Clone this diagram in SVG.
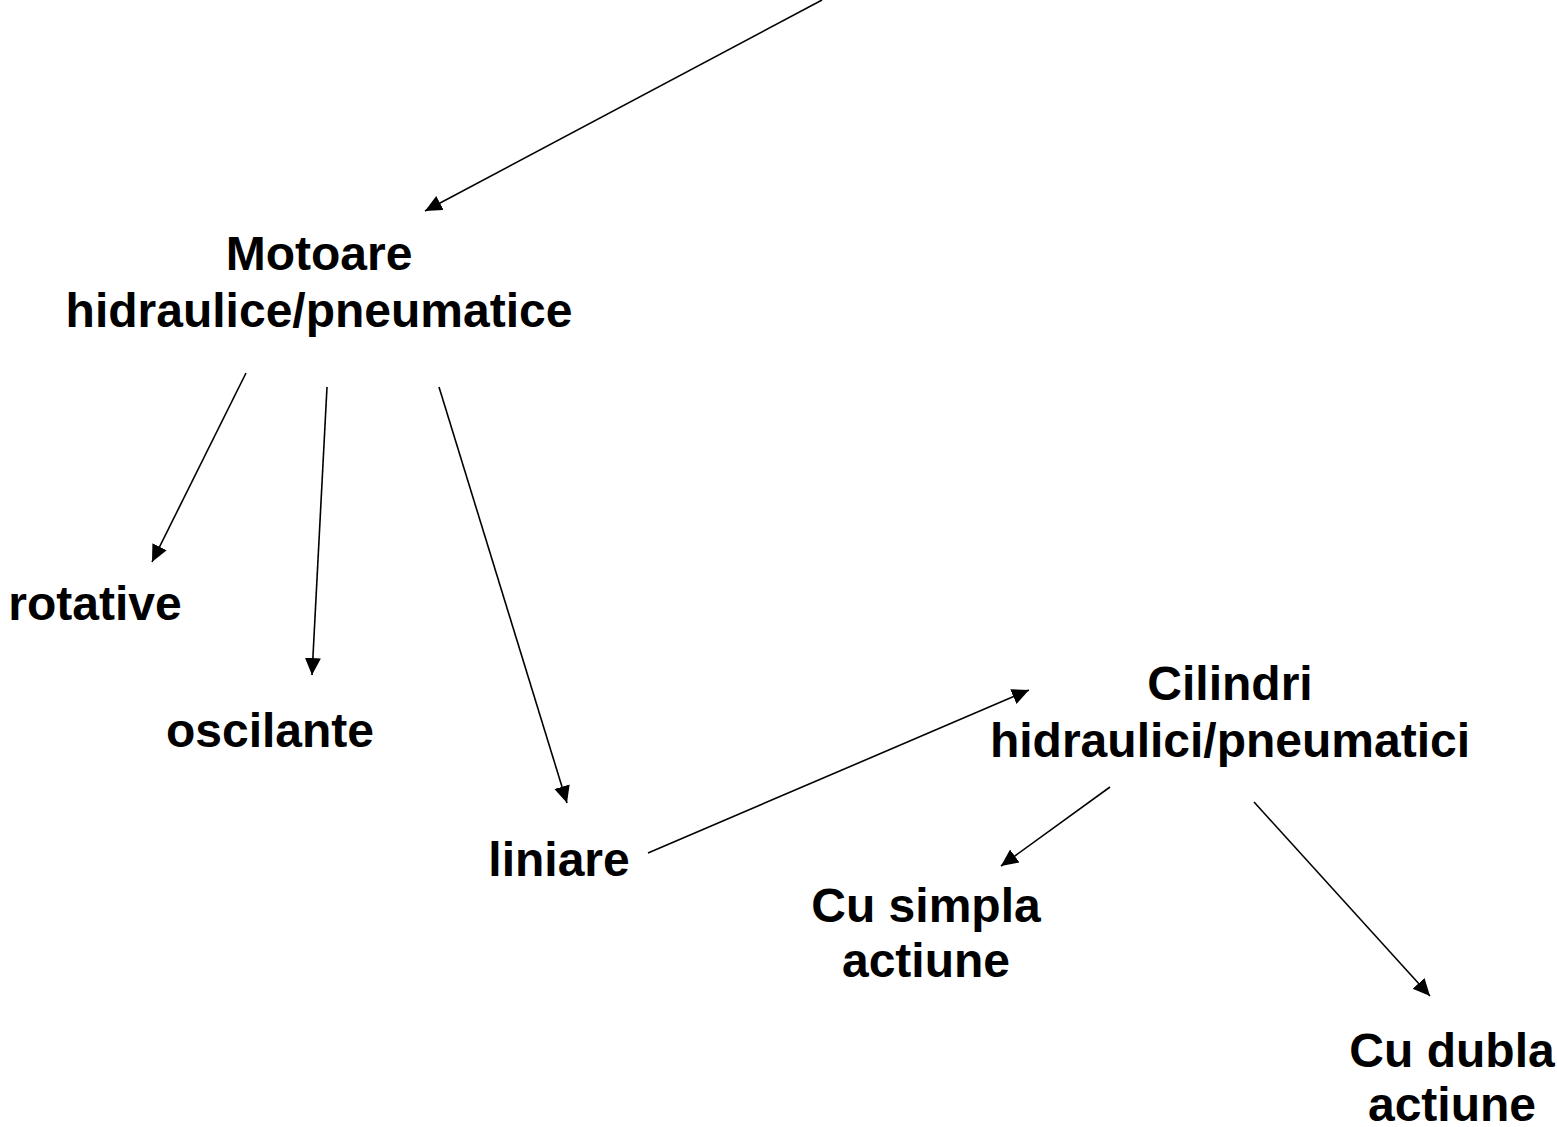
<svg xmlns="http://www.w3.org/2000/svg" width="1557" height="1127" viewBox="0 0 1557 1127">
<style>
text{font-family:"Liberation Sans",Arial,sans-serif;font-weight:bold;font-size:48px;fill:#000;text-anchor:middle}
.c{stroke:#000;stroke-width:1.6;fill:none}
</style>
<defs>
<marker id="ah" markerUnits="userSpaceOnUse" markerWidth="20" markerHeight="18" refX="17" refY="8" orient="auto">
<path d="M0,0 L17,8 L0,16 Z" fill="#000"/>
</marker>
</defs>
<rect width="1557" height="1127" fill="#fff"/>
<g id="connectors">
<line class="c" x1="822" y1="0" x2="425" y2="211" marker-end="url(#ah)"/>
<line class="c" x1="246" y1="373" x2="152" y2="562" marker-end="url(#ah)"/>
<line class="c" x1="327" y1="387" x2="312" y2="675" marker-end="url(#ah)"/>
<line class="c" x1="439" y1="387" x2="567" y2="803" marker-end="url(#ah)"/>
<line class="c" x1="648" y1="853" x2="1029" y2="690" marker-end="url(#ah)"/>
<line class="c" x1="1110" y1="787" x2="1001" y2="866" marker-end="url(#ah)"/>
<line class="c" x1="1254" y1="802" x2="1430" y2="996" marker-end="url(#ah)"/>
</g>
<g id="motoare"><text x="319" y="270">Motoare</text><text x="319" y="327">hidraulice/pneumatice</text></g>
<g id="rotative"><text x="95" y="620">rotative</text></g>
<g id="oscilante"><text x="270" y="747">oscilante</text></g>
<g id="liniare"><text x="559" y="876">liniare</text></g>
<g id="cilindri"><text x="1230" y="700">Cilindri</text><text x="1230" y="757">hidraulici/pneumatici</text></g>
<g id="simpla"><text x="926" y="922">Cu simpla</text><text x="926" y="977">actiune</text></g>
<g id="dubla"><text x="1452" y="1067">Cu dubla</text><text x="1452" y="1121">actiune</text></g>
</svg>
